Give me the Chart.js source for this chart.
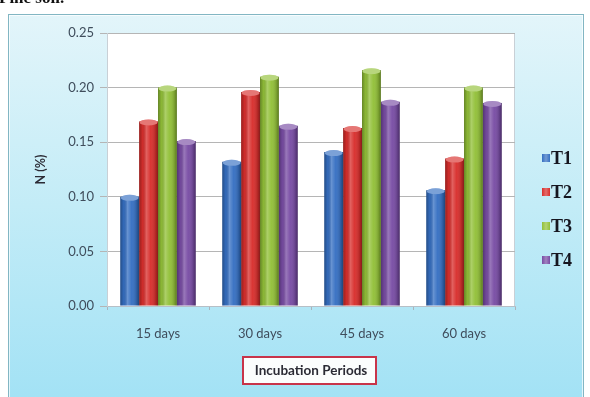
<!DOCTYPE html>
<html>
<head>
<meta charset="utf-8">
<script src="https://cdn.jsdelivr.net/npm/chart.js@4.4.1/dist/chart.umd.min.js"></script>
<style>
  html, body { margin: 0; padding: 0; background: #ffffff; }
  canvas { display: block; }
</style>
</head>
<body>
<canvas id="chart" width="590" height="397"></canvas>
<script>
// Soil nitrogen content by incubation period and treatment
const categories = ['15 days', '30 days', '45 days', '60 days'];
const seriesNames = ['T1', 'T2', 'T3', 'T4'];
const t1 = [0.100, 0.132, 0.141, 0.106];
const t2 = [0.169, 0.196, 0.163, 0.135];
const t3 = [0.200, 0.210, 0.216, 0.200];
const t4 = [0.151, 0.165, 0.187, 0.186];
const yTickLabels = ['0.00', '0.05', '0.10', '0.15', '0.20', '0.25'];
const yAxisTitle = 'N (%)';
const xAxisTitle = 'Incubation Periods';
const captionText = 'Pine soil.';

const seriesColors = ['#356fc2', '#d82e2c', '#92c038', '#784ca4'];

// Page backdrop, framed panel, white plot area and the title frame
const backdrop = {
  id: 'backdrop',
  beforeDraw(chart) {
    const { ctx, chartArea: a } = chart;
    ctx.save();
    ctx.fillStyle = '#ffffff';
    ctx.fillRect(0, 0, chart.width, chart.height);

    ctx.font = 'bold 17px "Liberation Serif", serif';
    ctx.fillStyle = '#111111';
    ctx.textBaseline = 'alphabetic';
    ctx.fillText(captionText, -1, 3);

    const g = ctx.createLinearGradient(0, 14, 0, chart.height);
    g.addColorStop(0, '#e3f5fa');
    g.addColorStop(0.5, '#c3ecf7');
    g.addColorStop(1, '#a3e2f5');
    ctx.fillStyle = g;
    ctx.fillRect(8, 14, 576, chart.height);
    ctx.strokeStyle = '#82b6c3';
    ctx.lineWidth = 1;
    ctx.strokeRect(8.5, 14.5, 575, chart.height + 5);
    ctx.strokeStyle = 'rgba(255,255,255,0.7)';
    ctx.strokeRect(9.5, 15.5, 573, chart.height + 5);

    ctx.fillStyle = '#ffffff';
    ctx.fillRect(a.left, a.top, a.right - a.left, a.bottom - a.top);
    ctx.strokeStyle = '#c9d0d6';
    ctx.strokeRect(a.left + 0.5, a.top + 0.5, a.right - a.left - 1, a.bottom - a.top);

    ctx.fillStyle = '#fbfdfd';
    ctx.fillRect(242, 356, 135, 29);
    ctx.strokeStyle = '#c8344a';
    ctx.lineWidth = 2;
    ctx.strokeRect(243, 357, 133, 27);
    ctx.restore();
  }
};

// Cylinder shading on each bar plus a lighter top cap
const cylinders = {
  id: 'cylinders',
  afterDatasetsDraw(chart) {
    const { ctx } = chart;
    ctx.save();
    chart.data.datasets.forEach((ds, di) => {
      const meta = chart.getDatasetMeta(di);
      meta.data.forEach(bar => {
        const w = bar.width;
        const l = bar.x - w / 2;
        const top = bar.y;
        const h = bar.base - bar.y;
        const g = ctx.createLinearGradient(l, 0, l + w, 0);
        g.addColorStop(0, 'rgba(0,0,0,0.30)');
        g.addColorStop(0.18, 'rgba(0,0,0,0.05)');
        g.addColorStop(0.38, 'rgba(255,255,255,0.25)');
        g.addColorStop(0.6, 'rgba(255,255,255,0.04)');
        g.addColorStop(0.88, 'rgba(0,0,0,0.18)');
        g.addColorStop(1, 'rgba(0,0,0,0.38)');
        ctx.fillStyle = g;
        ctx.fillRect(l, top, w, h);

        ctx.beginPath();
        ctx.ellipse(bar.x, top + 1, w / 2 - 0.5, 3, 0, 0, Math.PI * 2);
        ctx.fillStyle = ds.backgroundColor;
        ctx.fill();
        ctx.fillStyle = 'rgba(255,255,255,0.35)';
        ctx.fill();
      });
    });
    ctx.restore();
  }
};

// Legend with small square keys on the right
const sideLegend = {
  id: 'sideLegend',
  afterDraw(chart) {
    const { ctx } = chart;
    ctx.save();
    ctx.font = 'bold 18px "Liberation Serif", serif';
    ctx.textBaseline = 'middle';
    ctx.textAlign = 'left';
    chart.data.datasets.forEach((ds, i) => {
      const y = 158 + i * 34;
      const g = ctx.createLinearGradient(542, 0, 550, 0);
      g.addColorStop(0, ds.backgroundColor);
      g.addColorStop(0.5, '#ffffff');
      g.addColorStop(1, ds.backgroundColor);
      ctx.fillStyle = ds.backgroundColor;
      ctx.fillRect(542, y - 4, 8, 8);
      ctx.globalAlpha = 0.3;
      ctx.fillStyle = g;
      ctx.fillRect(542, y - 4, 8, 8);
      ctx.globalAlpha = 1;
      ctx.fillStyle = '#15151f';
      ctx.fillText(ds.label, 551, y + 1);
    });
    ctx.restore();
  }
};

const datasets = [t1, t2, t3, t4].map((vals, i) => ({
  label: seriesNames[i],
  data: vals,
  backgroundColor: seriesColors[i],
  borderWidth: 0,
  categoryPercentage: 0.74,
  barPercentage: 1.0
}));

new Chart(document.getElementById('chart'), {
  type: 'bar',
  data: { labels: categories, datasets },
  plugins: [backdrop, cylinders, sideLegend],
  options: {
    responsive: false,
    animation: false,
    devicePixelRatio: 1,
    layout: { padding: { left: 0, top: 33, right: 75, bottom: 0 } },
    plugins: { legend: { display: false }, tooltip: { enabled: false } },
    scales: {
      x: {
        afterFit(scale) { scale.height = 91; },
        grid: {
          display: true,
          offset: true,
          drawOnChartArea: false,
          drawTicks: true,
          tickLength: 4,
          color: '#a9b4bc'
        },
        border: { display: true, color: '#b7bfc6' },
        ticks: {
          padding: 16,
          color: '#3f4d5c',
          font: { family: 'Lato', size: 13 }
        },
        title: {
          display: true,
          text: xAxisTitle,
          color: '#2b2b35',
          font: { family: 'Lato', size: 13.5, weight: 'bold' },
          padding: { top: 0, bottom: 18 }
        }
      },
      y: {
        min: 0,
        max: 0.25,
        afterFit(scale) { scale.width = 107; },
        grid: {
          color: '#b5b5b5',
          tickLength: 7,
          drawTicks: true
        },
        border: { display: true, color: '#c9d0d6' },
        ticks: {
          stepSize: 0.05,
          padding: 6,
          color: '#3f4d5c',
          font: { family: 'Lato', size: 13 },
          callback: (v, i) => yTickLabels[i]
        },
        title: {
          display: true,
          text: yAxisTitle,
          color: '#2b2b35',
          font: { family: 'Lato', size: 12.5, weight: 'bold' },
          padding: { top: 33, bottom: 0 }
        }
      }
    }
  }
});
</script>
</body>
</html>
